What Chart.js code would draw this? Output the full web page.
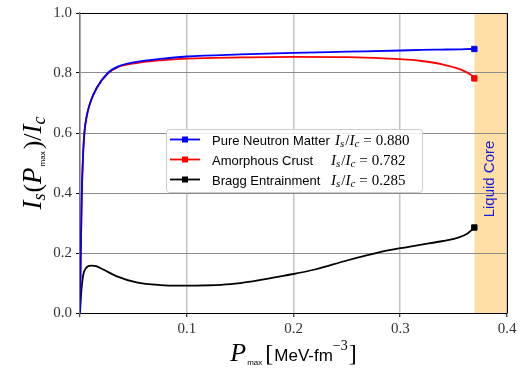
<!DOCTYPE html>
<html>
<head>
<meta charset="utf-8">
<script src="https://cdn.jsdelivr.net/npm/chart.js@4"></script>
<style>
  body { margin: 0; background: #fff; }
  #wrap { width: 524px; height: 369px; }
</style>
</head>
<body>
<div id="wrap"><canvas id="ratioChart"></canvas></div>
<script>
// P_max values (MeV fm^-3) and I_s/I_c
var pressureCrust = [0, 0.0007, 0.0017, 0.0028, 0.0041, 0.0065, 0.0095, 0.0156, 0.026, 0.036, 0.053, 0.075, 0.1, 0.15, 0.2, 0.25, 0.3, 0.32, 0.338, 0.357, 0.3665, 0.3694];
var pureNeutron = [0, 0.2, 0.4, 0.52, 0.6, 0.66, 0.70, 0.75, 0.80, 0.822, 0.837, 0.847, 0.855, 0.862, 0.867, 0.871, 0.875, 0.877, 0.878, 0.879, 0.880, 0.880];
var amorphous = [0, 0.2, 0.4, 0.52, 0.6, 0.66, 0.70, 0.75, 0.798, 0.820, 0.833, 0.842, 0.848, 0.852, 0.854, 0.853, 0.846, 0.840, 0.830, 0.811, 0.793, 0.782];
var pressureBragg = [0, 0.0007, 0.0017, 0.0032, 0.0055, 0.0085, 0.011, 0.015, 0.0217, 0.034, 0.053, 0.075, 0.094, 0.141, 0.2, 0.22, 0.25, 0.28, 0.3, 0.32, 0.34, 0.355, 0.363, 0.3694];
var bragg = [0, 0.045, 0.09, 0.13, 0.149, 0.157, 0.158, 0.156, 0.145, 0.123, 0.102, 0.093, 0.091, 0.096, 0.130, 0.145, 0.175, 0.202, 0.216, 0.228, 0.240, 0.252, 0.265, 0.285];

var seriesNames = ["Pure Neutron Matter", "Amorphous Crust", "Bragg Entrainment"];
var finalRatios = ["0.880", "0.782", "0.285"];
var seriesColors = ["#0000ff", "#ff0000", "#000000"];
var xTicks = [0.1, 0.2, 0.3, 0.4];
var coreStart = 0.3694;

function pts(xs, ys) {
  return xs.map(function (x, i) { return { x: x, y: ys[i] }; });
}
function lastOnly(n, r) {
  return function (ctx) { return ctx.dataIndex === n - 1 ? r : 0; };
}

var SERIF = "'Liberation Serif', 'DejaVu Serif', serif";
var SANS = "'Liberation Sans', 'DejaVu Sans', sans-serif";

// draw a row of text pieces; align 'center' or 'left'
function drawRuns(ctx, parts, x, y, align) {
  var total = 0;
  parts.forEach(function (p) { ctx.font = p.f; p.w = ctx.measureText(p.t).width + (p.gap || 0); total += p.w; });
  var cx = align === 'center' ? x - total / 2 : x;
  ctx.textBaseline = 'alphabetic';
  ctx.textAlign = 'left';
  parts.forEach(function (p) {
    ctx.font = p.f;
    ctx.fillText(p.t, cx, y + (p.dy || 0));
    cx += p.w;
  });
}

function ratioText(val) {
  return [
    { t: "I", f: "italic 15px " + SERIF },
    { t: "s", f: "italic 11px " + SERIF, dy: 2.5, gap: 1 },
    { t: "/", f: "15px " + SERIF },
    { t: "I", f: "italic 15px " + SERIF },
    { t: "c", f: "italic 11px " + SERIF, dy: 2.5, gap: 4 },
    { t: "=", f: "15px " + SERIF, gap: 4 },
    { t: val, f: "15px " + SERIF }
  ];
}

var decor = {
  id: 'decor',
  beforeDraw: function (chart) {
    var ctx = chart.ctx, a = chart.chartArea, xs = chart.scales.x;
    var x0 = xs.getPixelForValue(coreStart);
    ctx.save();
    ctx.fillStyle = '#ffdfa6';
    ctx.fillRect(x0, a.top, a.right - x0, a.bottom - a.top);
    ctx.restore();
  },
  afterDraw: function (chart) {
    var ctx = chart.ctx, a = chart.chartArea;
    ctx.save();
    // top / right spines
    ctx.strokeStyle = '#000';
    ctx.lineWidth = 1;
    ctx.beginPath();
    ctx.moveTo(a.left, a.top + 0.5);
    ctx.lineTo(a.right + 0.5, a.top + 0.5);
    ctx.lineTo(a.right + 0.5, a.bottom);
    ctx.stroke();

    // Liquid Core label
    ctx.save();
    ctx.translate(490, (a.top + a.bottom) / 2 + 16);
    ctx.rotate(-Math.PI / 2);
    ctx.fillStyle = '#1a1adf';
    ctx.font = "15px " + SANS;
    ctx.textAlign = 'center';
    ctx.textBaseline = 'middle';
    ctx.fillText("Liquid Core", 0, 0);
    ctx.restore();

    // legend
    var lx = 166, ly = 129, lw = 256, lh = 63;
    ctx.fillStyle = 'rgba(255,255,255,0.85)';
    ctx.strokeStyle = '#cccccc';
    ctx.lineWidth = 1;
    ctx.beginPath();
    ctx.roundRect(lx + 0.5, ly + 0.5, lw, lh, 3);
    ctx.fill();
    ctx.stroke();
    var rows = [139.5, 159.5, 179.5];
    var mathX = [335, 331, 331];
    rows.forEach(function (ry, i) {
      ctx.strokeStyle = seriesColors[i];
      ctx.fillStyle = seriesColors[i];
      ctx.lineWidth = 1.8;
      ctx.beginPath();
      ctx.moveTo(170, ry);
      ctx.lineTo(200, ry);
      ctx.stroke();
      ctx.fillRect(182, ry - 3, 6, 6);
      ctx.fillStyle = '#000';
      drawRuns(ctx, [{ t: seriesNames[i], f: "13px " + SANS }], 212, ry + 5, 'left');
      drawRuns(ctx, ratioText(finalRatios[i]), mathX[i], ry + 5, 'left');
    });

    // x title
    ctx.fillStyle = '#000';
    drawRuns(ctx, [
      { t: "P", f: "italic 26px " + SERIF, gap: 1 },
      { t: "max", f: "8px " + SANS, dy: 4, gap: 3 },
      { t: "[", f: "24px " + SERIF, gap: 1 },
      { t: "MeV-fm", f: "17px " + SANS },
      { t: "\u22123", f: "14px " + SERIF, dy: -11, gap: 1 },
      { t: "]", f: "24px " + SERIF }
    ], (a.left + a.right) / 2, 361, 'center');

    // y title
    ctx.save();
    ctx.translate(41, (a.top + a.bottom) / 2);
    ctx.rotate(-Math.PI / 2);
    drawRuns(ctx, [
      { t: "I", f: "italic 27px " + SERIF },
      { t: "s", f: "italic 18px " + SERIF, dy: 4, gap: 1 },
      { t: "(", f: "26px " + SERIF },
      { t: "P", f: "italic 27px " + SERIF, gap: 1 },
      { t: "max", f: "8px " + SANS, dy: 4, gap: 2 },
      { t: ")", f: "26px " + SERIF },
      { t: "/", f: "26px " + SERIF },
      { t: "I", f: "italic 27px " + SERIF },
      { t: "c", f: "italic 18px " + SERIF, dy: 4 }
    ], 0, 0, 'center');
    ctx.restore();
    ctx.restore();
  }
};

function lineSet(label, xs, ys, color) {
  return {
    label: label,
    data: pts(xs, ys),
    borderColor: color,
    backgroundColor: color,
    borderWidth: 1.8,
    pointStyle: 'rect',
    pointRadius: lastOnly(xs.length, 3.8),
    pointBorderWidth: 1,
    cubicInterpolationMode: 'monotone',
    fill: false
  };
}

var ctxR = document.getElementById("ratioChart").getContext('2d');
var ratioChart = new Chart(ctxR, {
  type: 'line',
  data: {
    datasets: [
      lineSet(seriesNames[0], pressureCrust, pureNeutron, seriesColors[0]),
      lineSet(seriesNames[1], pressureCrust, amorphous, seriesColors[1]),
      lineSet(seriesNames[2], pressureBragg, bragg, seriesColors[2])
    ]
  },
  options: {
    responsive: true,
    maintainAspectRatio: false,
    animation: false,
    layout: { padding: { top: 10, right: 17, left: 0, bottom: 0 } },
    plugins: { legend: { display: false }, tooltip: { enabled: false } },
    scales: {
      x: {
        type: 'linear',
        min: 0,
        max: 0.4,
        afterFit: function (s) { s.height = 56; },
        afterBuildTicks: function (s) {
          s.ticks = [{ value: 0 }].concat(xTicks.map(function (v) { return { value: v }; }));
        },
        ticks: {
          callback: function (v) { return v === 0 ? '' : v.toFixed(1); },
          font: { family: SERIF, size: 15 },
          color: '#333',
          padding: 3,
          maxRotation: 0
        },
        grid: { color: '#c4c4c4', lineWidth: 1.5, tickColor: '#000', tickLength: 4, tickWidth: 1 },
        border: { color: '#000', width: 1 }
      },
      y: {
        min: 0,
        max: 1,
        afterFit: function (s) { s.width = 80; },
        ticks: {
          stepSize: 0.2,
          callback: function (v) { return v.toFixed(1); },
          font: { family: SERIF, size: 15 },
          color: '#333',
          padding: 4
        },
        grid: { color: '#8c8c8c', lineWidth: 1, tickColor: '#000', tickLength: 4, tickWidth: 1 },
        border: { color: '#777', width: 1.5 }
      }
    }
  },
  plugins: [decor]
});
</script>
</body>
</html>
